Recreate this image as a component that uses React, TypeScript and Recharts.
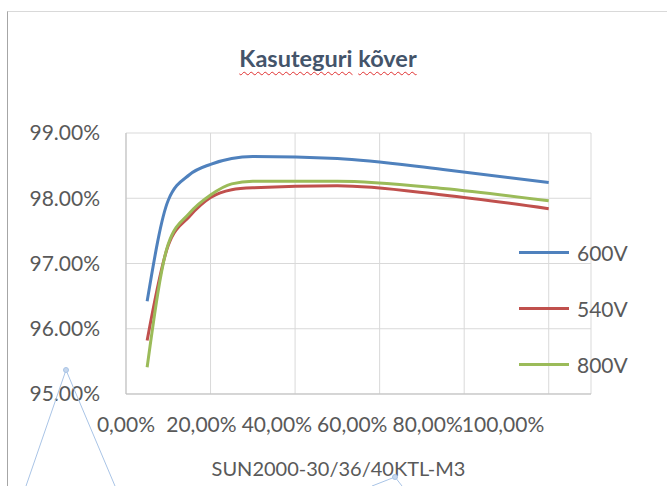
import React from 'react';
import { LineChart, Line, XAxis, YAxis, CartesianGrid, Legend } from 'recharts';

// load fraction (0..1) and efficiency in %
const loads = [0.05, 0.1, 0.15, 0.2, 0.25, 0.3, 0.5, 0.75, 1.0];
const eff600 = [96.42, 97.97, 98.36, 98.52, 98.61, 98.64, 98.61, 98.44, 98.24];
const eff540 = [95.82, 97.28, 97.72, 98.01, 98.13, 98.16, 98.19, 98.05, 97.84];
const eff800 = [95.41, 97.3, 97.77, 98.05, 98.22, 98.26, 98.26, 98.15, 97.96];

const xTicks = [0, 0.2, 0.4, 0.6, 0.8, 1.0];
const yTicks = [95, 96, 97, 98, 99];

const seriesNames = ['600V', '540V', '800V'];
const seriesColors = ['#4F81BD', '#C0504D', '#9BBB59'];

const chartData = loads.map((load, i) => ({
  load,
  v600: eff600[i],
  v540: eff540[i],
  v800: eff800[i],
}));

const FONT = 'Lato, "Open Sans", sans-serif';
const GREY = '#595959';

// Excel squeezed the category labels together, so pull them toward the origin a bit
const XTick = (props: any) => {
  const { x, y, payload, width } = props;
  const x0 = x - (payload.value / 1.1) * width;
  const cx = x0 + (x - x0) * 0.892;
  const label = (payload.value * 100).toFixed(2).replace('.', ',') + '%';
  return (
    <text x={cx} y={y} dy="0.71em" textAnchor="middle" fill={GREY} fontSize={21} fontFamily={FONT}>
      {label}
    </text>
  );
};

const LegendBox = () => (
  <div style={{ fontFamily: FONT }}>
    {seriesNames.map((name, i) => (
      <div key={name} style={{ height: 56, display: 'flex', alignItems: 'center' }}>
        <div style={{ width: 50, height: 3, background: seriesColors[i], marginRight: 8 }} />
        <span style={{ fontSize: 21, color: GREY }}>{name}</span>
      </div>
    ))}
  </div>
);

const squiggle: React.CSSProperties = {
  textDecorationLine: 'underline',
  textDecorationStyle: 'wavy',
  textDecorationColor: '#E03030',
  textDecorationThickness: 1,
  textUnderlineOffset: 4,
};

export default function App() {
  return (
    <div style={{ position: 'absolute', left: 0, top: 0, width: 667, height: 486, overflow: 'hidden', background: '#fff' }}>
      <div
        style={{
          position: 'absolute',
          left: 7,
          top: 11,
          width: 670,
          height: 480,
          borderLeft: '1px solid #A6A6A6',
          borderTop: '1px solid #D9D9D9',
        }}
      />
      <div
        style={{
          position: 'absolute',
          left: 128,
          width: 400,
          top: 44,
          textAlign: 'center',
          fontFamily: FONT,
          fontWeight: 700,
          fontSize: 23.5,
          color: '#44546A',
          whiteSpace: 'nowrap',
        }}
      >
        <span style={squiggle}>Kasuteguri</span> <span style={squiggle}>kõver</span>
      </div>
      <div style={{ position: 'absolute', left: 0, top: 0 }}>
        <LineChart width={667} height={486} data={chartData} margin={{ top: 133, right: 76, bottom: 0, left: 0 }}>
          <CartesianGrid stroke="#D9D9D9" strokeWidth={1} />
          <XAxis
            dataKey="load"
            type="number"
            domain={[0, 1.1]}
            ticks={xTicks}
            height={92}
            stroke="#BFBFBF"
            tickLine={false}
            tickSize={0}
            tickMargin={23}
            tick={<XTick />}
            label={{
              value: 'SUN2000-30/36/40KTL-M3',
              position: 'insideBottom',
              offset: 10,
              dx: -20,
              fill: GREY,
              fontSize: 20,
              fontFamily: FONT,
            }}
          />
          <YAxis
            type="number"
            domain={[95, 99]}
            ticks={yTicks}
            width={126}
            stroke="#BFBFBF"
            tickLine={false}
            tickSize={0}
            tickMargin={26}
            tick={{ fill: GREY, fontSize: 21, fontFamily: FONT }}
            tickFormatter={(v: number) => v.toFixed(2) + '%'}
          />
          <Legend
            layout="vertical"
            align="center"
            verticalAlign="middle"
            content={<LegendBox />}
            wrapperStyle={{ left: 519, top: 224, width: 120 }}
          />
          <Line type="monotone" dataKey="v600" name={seriesNames[0]} stroke={seriesColors[0]} strokeWidth={3} dot={false} isAnimationActive={false} />
          <Line type="monotone" dataKey="v540" name={seriesNames[1]} stroke={seriesColors[1]} strokeWidth={3} dot={false} isAnimationActive={false} />
          <Line type="monotone" dataKey="v800" name={seriesNames[2]} stroke={seriesColors[2]} strokeWidth={3} dot={false} isAnimationActive={false} />
        </LineChart>
      </div>
      {/* leftover shape-selection connectors from the screenshot */}
      <svg width={667} height={486} style={{ position: 'absolute', left: 0, top: 0, pointerEvents: 'none' }}>
        <g stroke="#A9C4E6" strokeWidth={1} fill="none">
          <path d="M26 486 L66 370 L115 486" />
          <circle cx={66} cy={370} r={2.5} fill="#C5D7EE" />
          <path d="M372 486 L395 477 L402 486" />
          <circle cx={395} cy={477} r={2.5} fill="#C5D7EE" />
        </g>
      </svg>
    </div>
  );
}
